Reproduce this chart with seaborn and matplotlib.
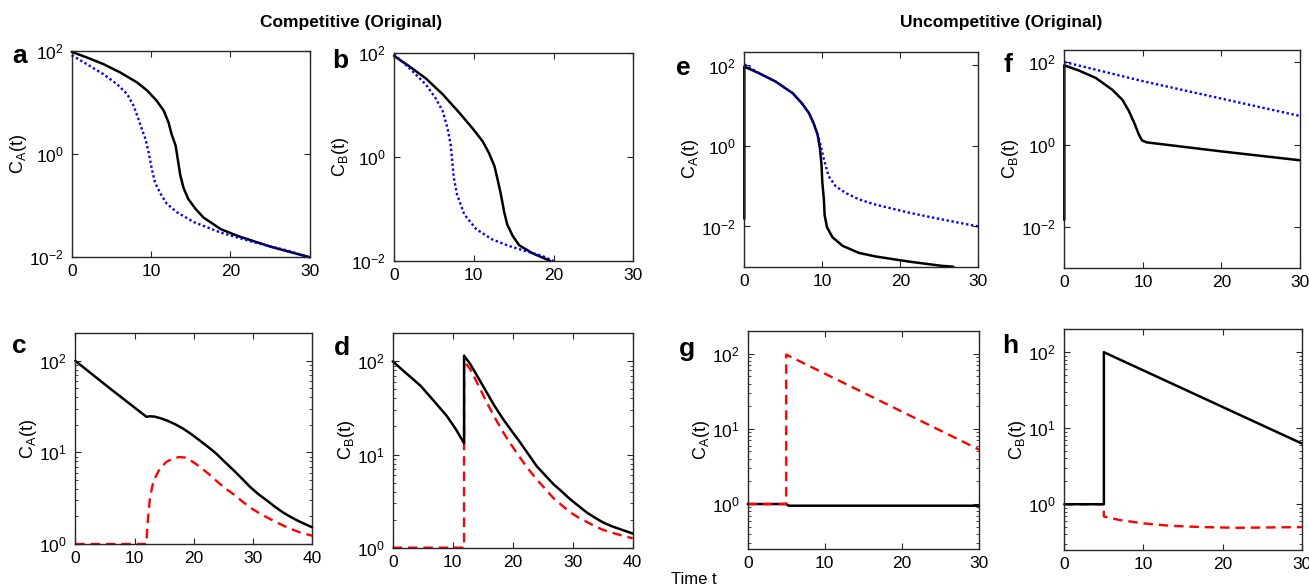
import numpy as np
import matplotlib
matplotlib.use('Agg')
import matplotlib.pyplot as plt
import matplotlib.ticker as mticker
import seaborn as sns

# ==========================================
# data (time, concentration)
# ==========================================
# a: C_A(t), competitive
a_t_black = [0, 1.9, 4.0, 6.1, 8.2, 9.5, 10.7, 11.6, 12.2, 12.6, 13.1, 13.3, 13.5, 13.7,
             14.1, 14.7, 15.6, 16.6, 18.8, 20.9, 25.1, 30]
a_black = [95, 74, 55, 38, 24.5, 17, 10.8, 6.9, 4.1, 2.4, 1.45, 0.93, 0.59, 0.38,
           0.22, 0.134, 0.087, 0.059, 0.035, 0.026, 0.016, 0.01]
a_t_blue = [0, 1.9, 4.0, 5.7, 7.0, 7.8, 8.4, 8.85, 9.3, 9.7, 10.1, 10.5, 11.2, 12.0,
            13.3, 15.4, 18.8, 23.0, 27.2, 30]
a_blue = [82, 55, 35, 22.6, 14.4, 8.6, 4.8, 3.0, 1.95, 1.07, 0.51, 0.28, 0.17, 0.108,
          0.074, 0.048, 0.030, 0.0195, 0.0135, 0.01]

# b: C_B(t), competitive
b_t_black = [0, 1.9, 4.0, 6.1, 8.2, 9.8, 11.1, 11.9, 12.6, 13.0, 13.4, 13.8, 14.2, 14.9,
             15.7, 17.4, 19.6]
b_black = [87, 55, 32, 15.9, 7.0, 3.6, 2.0, 1.19, 0.66, 0.36, 0.19, 0.089, 0.050, 0.030,
           0.020, 0.014, 0.01]
b_t_blue = [0, 1.9, 4.0, 5.2, 6.1, 6.7, 7.1, 7.3, 7.5, 7.9, 8.8, 10.3, 12.3, 14.4, 16.5,
            18.6, 20]
b_blue = [93, 51, 24.5, 13.5, 7.6, 3.6, 1.74, 0.83, 0.40, 0.19, 0.079, 0.041, 0.026,
          0.0195, 0.0155, 0.0125, 0.01]

# c: C_A(t), competitive, second dose
c_t_black = [0, 5.85, 12.0, 12.6, 13.4, 14.4, 15.4, 16.8, 18.2, 19.6, 21, 22.4, 23.8,
             25.2, 26.7, 28.1, 29.5, 30.9, 32.3, 33.7, 35.1, 36.5, 37.9, 40]
c_black = [100, 50, 24.5, 24.8, 24.6, 23.6, 22.4, 20.4, 18.2, 15.8, 13.5, 11.5, 9.7,
           7.9, 6.4, 5.2, 4.2, 3.5, 3.0, 2.55, 2.2, 1.95, 1.75, 1.52]
c_t_red = [0, 12.0, 12.15, 12.3, 12.6, 13.2, 14.3, 15.4, 16.5, 17.5, 18.5, 19.7, 21,
           22.4, 23.8, 25.2, 26.7, 28.1, 29.5, 30.9, 32.3, 33.7, 35.1, 36.5, 37.9, 40]
c_red = [1, 1, 1.5, 1.96, 3.2, 4.9, 6.7, 7.9, 8.6, 8.9, 8.8, 8.0, 7.0, 5.9, 4.9, 4.1,
         3.5, 2.95, 2.5, 2.2, 1.96, 1.76, 1.59, 1.45, 1.34, 1.23]

# d: C_B(t), competitive, second dose
d_t_black = [0, 2.3, 4.6, 6.8, 9, 10.5, 11.9, 11.9, 12.9, 14.3, 15.7, 17.0, 18.4, 19.8,
             21.2, 22.6, 24, 25.4, 26.8, 28.2, 29.6, 31.0, 32.3, 33.7, 35.1, 36.5, 37.9, 40]
d_black = [100, 74, 55, 38, 26, 18.8, 13.2, 115, 94, 66, 46, 33, 24, 18, 13.6, 10.1,
           7.5, 6.0, 4.8, 4.0, 3.3, 2.8, 2.4, 2.1, 1.86, 1.7, 1.58, 1.42]
d_t_red = [0, 11.9, 11.9, 12.9, 14.3, 15.7, 17.0, 18.4, 19.8, 21.2, 22.6, 24, 25.4,
           26.8, 28.2, 29.6, 31.0, 32.3, 33.7, 35.1, 36.5, 37.9, 40]
d_red = [1, 1, 100, 83, 55, 36, 25, 17.4, 12.6, 9.3, 7.0, 5.4, 4.3, 3.4, 2.85, 2.4,
         2.1, 1.9, 1.7, 1.55, 1.45, 1.37, 1.26]

# e: C_A(t), uncompetitive
e_t_black = [0, 0, 1.9, 4.0, 6.2, 7.4, 8.3, 8.9, 9.4, 9.7, 9.9, 10.0, 10.2, 10.3, 10.6,
             11.3, 12.6, 14.7, 16.8, 21.1, 25.3, 26.8]
e_black = [0.0155, 94, 64, 40, 20.5, 11.4, 6.5, 3.6, 1.9, 0.87, 0.33, 0.126, 0.048,
           0.019, 0.0096, 0.0054, 0.0033, 0.0022, 0.0018, 0.00134, 0.00105, 0.001]
e_t_blue = [0, 1.9, 4.0, 6.2, 7.4, 8.3, 8.9, 9.4, 9.7, 10.2, 10.8, 11.7, 13.0, 14.7,
            16.8, 21.1, 25.3, 30]
e_blue = [107, 64, 40, 20.5, 11.4, 6.5, 3.6, 1.95, 1.2, 0.47, 0.18, 0.1, 0.068, 0.047,
          0.035, 0.022, 0.015, 0.01]

# f: C_B(t), uncompetitive
f_t_black = [0, 0, 1.9, 4.0, 6.1, 7.4, 8.2, 8.9, 9.5, 9.9, 10.5, 11.2, 20, 30]
f_black = [0.015, 85, 63, 42, 21.7, 12.3, 6.7, 3.4, 1.75, 1.27, 1.14, 1.10, 0.69, 0.42]
f_t_blue = [0, 10, 20, 30]
f_blue = [102, 35, 13.2, 5.0]

# g: C_A(t), uncompetitive, second dose
g_t_black = [0, 5, 5.3, 30]
g_black = [1.0, 1.0, 0.95, 0.95]
g_t_red = [0, 5, 5, 30]
g_red = [1, 1, 97, 5.3]

# h: C_B(t), uncompetitive, second dose
h_t_black = [0, 5, 5, 30]
h_black = [1, 1, 100, 6.3]
h_t_red = [0, 5, 5, 7, 10, 13.4, 17.6, 21.8, 30]
h_red = [1, 1, 0.69, 0.62, 0.56, 0.52, 0.50, 0.49, 0.50]

# ==========================================
# style
# ==========================================
sns.set_style('ticks')
plt.rcParams['font.family'] = ['Liberation Sans', 'DejaVu Sans']
plt.rcParams['mathtext.fontset'] = 'custom'
plt.rcParams['mathtext.rm'] = 'Liberation Sans'
plt.rcParams['mathtext.it'] = 'Liberation Sans:italic'
plt.rcParams['mathtext.bf'] = 'Liberation Sans:bold'
plt.rcParams['axes.edgecolor'] = '#262626'
plt.rcParams['axes.linewidth'] = 1.0
plt.rcParams['text.color'] = 'black'
plt.rcParams['axes.labelcolor'] = 'black'

W, H = 1309, 587
fig = plt.figure(figsize=(W / 100, H / 100), dpi=100)


def box(l, r, t, b):
    # pixel box -> figure fraction
    return [l / W, 1 - b / H, (r - l) / W, (b - t) / H]


def setup(ax, xmax, ylim, minor, ylab):
    ax.set_yscale('log')
    ax.set_xlim(0, xmax)
    ax.set_ylim(*ylim)
    ax.set_xticks(np.arange(0, xmax + 1, 10))
    ax.xaxis.set_minor_locator(mticker.NullLocator())
    if minor:
        ax.yaxis.set_major_locator(mticker.FixedLocator([1, 10, 100]))
        ax.yaxis.set_minor_locator(mticker.LogLocator(base=10, subs=np.arange(2, 10)))
    else:
        ax.yaxis.set_major_locator(mticker.FixedLocator([1e-2, 1, 1e2]))
        ax.yaxis.set_minor_locator(mticker.NullLocator())
    ax.yaxis.set_major_formatter(mticker.LogFormatterSciNotation())
    ax.tick_params(which='both', direction='in', top=True, right=True,
                   labelsize=12.5, colors='#262626', labelcolor='black')
    ax.tick_params(which='major', length=4)
    ax.tick_params(which='minor', length=2.5)
    ax.tick_params(axis='y', pad=6)
    ax.tick_params(axis='x', pad=5)
    ax.set_xlabel('')
    ax.set_ylabel(ylab, fontsize=13, labelpad=0)


def line(ax, t, v, kind):
    styles = {
        'black': dict(color='black', linestyle='-', linewidth=1.8),
        'blue': dict(color='#0000ff', linestyle=(0, (1, 1.1)), linewidth=1.7),
        'red': dict(color='#ff0000', linestyle=(0, (4, 2.5)), linewidth=1.7),
    }
    sns.lineplot(x=t, y=v, ax=ax, estimator=None, sort=False, **styles[kind])


def unclip(ax):
    for l in ax.lines:
        l.set_clip_on(False)


CA = r'C$_\mathrm{A}$(t)'
CB = r'C$_\mathrm{B}$(t)'

# top row
ax = fig.add_axes(box(71.7, 309.7, 50.7, 257.3))
setup(ax, 30, (1e-2, 1e2), False, CA)
line(ax, a_t_black, a_black, 'black')
line(ax, a_t_blue, a_blue, 'blue')
unclip(ax)

ax = fig.add_axes(box(394, 633.3, 52.7, 261))
setup(ax, 30, (1e-2, 1e2), False, CB)
line(ax, b_t_black, b_black, 'black')
line(ax, b_t_blue, b_blue, 'blue')
unclip(ax)

ax = fig.add_axes(box(744.3, 978.3, 51.7, 266.7))
setup(ax, 30, (1e-3, 220), False, CA)
line(ax, e_t_black, e_black, 'black')
line(ax, e_t_blue, e_blue, 'blue')
unclip(ax)

ax = fig.add_axes(box(1064.3, 1300, 50, 268.3))
setup(ax, 30, (1e-3, 200), False, CB)
line(ax, f_t_black, f_black, 'black')
line(ax, f_t_blue, f_blue, 'blue')
unclip(ax)

# bottom row
ax = fig.add_axes(box(75.3, 312.3, 333.3, 544))
setup(ax, 40, (1, 200), True, CA)
line(ax, c_t_red, c_red, 'red')
line(ax, c_t_black, c_black, 'black')
unclip(ax)

ax = fig.add_axes(box(392.7, 632.7, 333.3, 547.7))
setup(ax, 40, (1, 200), True, CB)
line(ax, d_t_red, d_red, 'red')
line(ax, d_t_black, d_black, 'black')
unclip(ax)

ax = fig.add_axes(box(747.7, 979, 331, 549.3))
setup(ax, 30, (0.25, 200), True, CA)
line(ax, g_t_black, g_black, 'black')
line(ax, g_t_red, g_red, 'red')
unclip(ax)

ax = fig.add_axes(box(1064.3, 1301.7, 329.3, 550))
setup(ax, 30, (0.25, 200), True, CB)
line(ax, h_t_red, h_red, 'red')
line(ax, h_t_black, h_black, 'black')
unclip(ax)

# titles, panel letters, shared x label
fig.text(351 / W, 1 - 23 / H, 'Competitive (Original)', ha='center', va='center',
         fontsize=12.5, fontweight='bold')
fig.text(1001 / W, 1 - 23 / H, 'Uncompetitive (Original)', ha='center', va='center',
         fontsize=12.5, fontweight='bold')

letters = [('a', 12, 63), ('b', 332, 68), ('e', 676, 75), ('f', 1003, 72),
           ('c', 12, 353), ('d', 334, 355), ('g', 679, 356), ('h', 1002, 353)]
for s, x, y in letters:
    fig.text(x / W, 1 - y / H, s, ha='left', va='baseline', fontsize=19, fontweight='bold')

fig.text(671 / W, 1 - 579 / H, 'Time t', ha='left', va='center', fontsize=12)

fig.savefig('out.png', dpi=100)
